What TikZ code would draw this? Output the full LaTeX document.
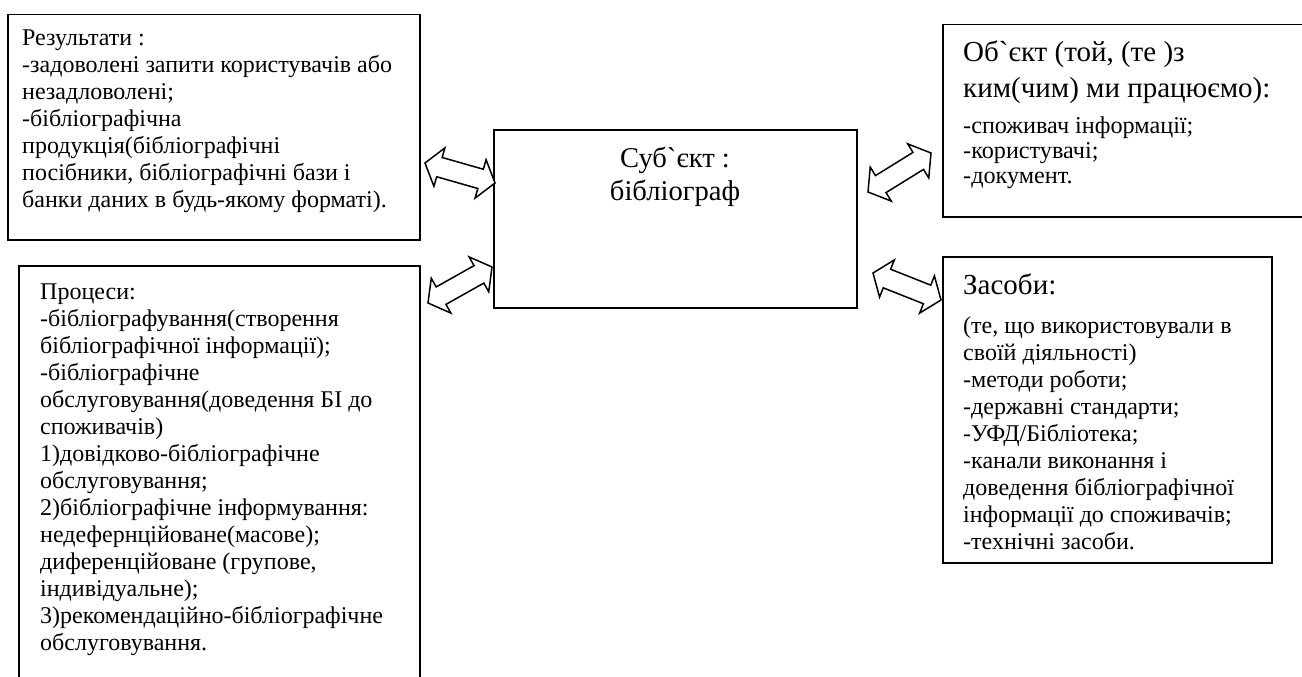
\documentclass[tikz,border=0pt]{standalone}
\usepackage{fontspec}
\newfontfamily\rmtext{Liberation Serif}
\usetikzlibrary{calc}
\tikzset{
  box/.style={draw, line width=1.5pt, inner sep=0, anchor=north west},
  bodytext/.style={font=\rmtext\fontsize{24}{27}\selectfont, align=left, anchor=base west, inner sep=0},
  smalltext/.style={font=\rmtext\fontsize{24.2}{25}\selectfont, align=left, anchor=base west, inner sep=0},
  bigtext/.style={font=\rmtext\fontsize{29}{36}\selectfont, align=left, anchor=base west, inner sep=0},
  centext/.style={font=\rmtext\fontsize{28.6}{33}\selectfont, align=center, anchor=base, inner sep=0},
  blockarrow/.style={draw, line width=1.5pt, fill=white, line join=miter},
}
\newcommand\dblarrow[2]{%
  \draw[blockarrow] (#1)
    -- ($(#1)!15pt!(#2)!20pt!90:(#2)$)
    -- ($(#1)!15pt!(#2)!10pt!90:(#2)$)
    -- ($(#2)!15pt!(#1)!10pt!-90:(#1)$)
    -- ($(#2)!15pt!(#1)!20pt!-90:(#1)$)
    -- (#2)
    -- ($(#2)!15pt!(#1)!20pt!90:(#1)$)
    -- ($(#2)!15pt!(#1)!10pt!90:(#1)$)
    -- ($(#1)!15pt!(#2)!10pt!-90:(#2)$)
    -- ($(#1)!15pt!(#2)!20pt!-90:(#2)$)
    -- cycle;}
\begin{document}
\begin{tikzpicture}[x=1pt, y=-1pt]
\useasboundingbox (0,0) rectangle (1302,677);
\clip (0,0) rectangle (1302,677);
% boxes
\node[box, minimum width=412pt, minimum height=225pt] (res) at (7,14) {};
\node[box, minimum width=363pt, minimum height=178pt] (cen) at (493,129) {};
\node[box, minimum width=380pt, minimum height=192pt] (obj) at (942,24) {};
\node[box, minimum width=401pt, minimum height=430pt] (proc) at (18,265) {};
\node[box, minimum width=329pt, minimum height=306pt] (mean) at (942,256) {};
% texts (anchored at the baseline of their last line)
\node[bodytext] (restxt) at (22,207) {Результати :\\-задоволені запити користувачів або\\незадловолені;\\-бібліографічна\\продукція(бібліографічні\\посібники, бібліографічні бази і\\банки даних в будь-якому форматі).};
\node[centext] (centxt) at (675,200) {Суб`єкт :\\бібліограф};
\node[bigtext] (objhead) at (963,98) {Об`єкт (той, (те )з\\ким(чим) ми працюємо):};
\node[smalltext] (objtxt) at (963,183) {-споживач інформації;\\-користувачі;\\-документ.};
\node[bodytext] (proctxt) at (40,650) {Процеси:\\-бібліографування(створення\\бібліографічної інформації);\\-бібліографічне\\обслуговування(доведення БІ до\\споживачів)\\1)довідково-бібліографічне\\обслуговування;\\2)бібліографічне інформування:\\недефернційоване(масове);\\диференційоване (групове,\\індивідуальне);\\3)рекомендаційно-бібліографічне\\обслуговування.};
\node[bigtext] (meanhead) at (963,294) {Засоби:};
\node[bodytext] (meantxt) at (963,549) {(те, що використовували в\\своїй діяльності)\\-методи роботи;\\-державні стандарти;\\-УФД/Бібліотека;\\-канали виконання і\\доведення бібліографічної\\інформації до споживачів;\\-технічні засоби.};
% arrows
\coordinate (a1s) at (425,163); \coordinate (a1e) at (495,183);
\coordinate (a2s) at (428,303); \coordinate (a2e) at (492,267);
\coordinate (a3s) at (868,192); \coordinate (a3e) at (931,153);
\coordinate (a4s) at (873,273); \coordinate (a4e) at (941,300);
\dblarrow{a1s}{a1e}
\dblarrow{a2s}{a2e}
\dblarrow{a3s}{a3e}
\dblarrow{a4s}{a4e}
\end{tikzpicture}
\end{document}
